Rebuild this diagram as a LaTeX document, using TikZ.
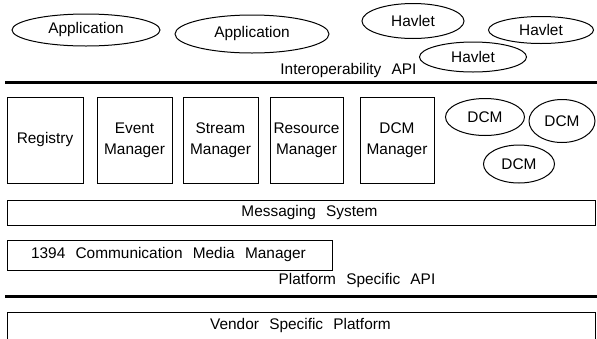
\documentclass[tikz,border=0pt]{standalone}
\usepackage{fontspec}
\setmainfont[WordSpace=2.4]{Liberation Sans}
\usetikzlibrary{shapes.geometric}
\begin{document}
\begin{tikzpicture}[x=1pt,y=-1pt,
  every node/.style={font=\fontsize{15.4}{21}\selectfont},
  oval/.style={draw,ellipse,line width=1pt,inner sep=0pt},
  mbox/.style={draw,rectangle,line width=1pt,inner sep=0pt,align=center},
  band/.style={draw,rectangle,line width=1pt,inner sep=0pt},
  apiline/.style={line width=3pt},
  lbl/.style={inner sep=0pt,anchor=center}]
\useasboundingbox (0,0) rectangle (597,338);
\clip (0,0) rectangle (597,338);
% top ovals
\node[oval,minimum width=148pt,minimum height=32pt] (app1) at (86,30) {Application};
\node[oval,minimum width=154pt,minimum height=38pt] (app2) at (252,34) {Application};
\node[oval,minimum width=102pt,minimum height=35pt] (hav1) at (413,21) {Havlet};
\node[oval,minimum width=105pt,minimum height=27pt] (hav2) at (541,30) {Havlet};
\node[oval,minimum width=107pt,minimum height=30pt] (hav3) at (473,57) {Havlet};
\node[lbl] (iapi) at (348.5,71) {Interoperability API};
\coordinate (ia1) at (5,82);
\coordinate (ia2) at (597,82);
\draw[apiline] (ia1) -- (ia2);
% managers
\node[mbox,minimum width=76pt,minimum height=86pt] (reg) at (45,140) {Registry};
\node[mbox,minimum width=75pt,minimum height=86pt] (evt) at (134.5,140) {Event\\Manager};
\node[mbox,minimum width=75pt,minimum height=86pt] (str) at (220.5,140) {Stream\\Manager};
\node[mbox,minimum width=73pt,minimum height=86pt] (res) at (306.5,140) {Resource\\Manager};
\node[mbox,minimum width=74pt,minimum height=86pt] (dcmm) at (397,140) {DCM\\Manager};
\node[oval,minimum width=79pt,minimum height=37pt] (dcm1) at (485,117) {DCM};
\node[oval,minimum width=66pt,minimum height=43pt] (dcm2) at (562,121) {DCM};
\node[oval,minimum width=71pt,minimum height=38pt] (dcm3) at (519,164) {DCM};
% messaging
\node[band,minimum width=588pt,minimum height=25pt] (msgbox) at (301,212.5) {};
\node[lbl] (msg) at (309.5,213) {Messaging System};
\node[band,minimum width=325pt,minimum height=30pt] (cmmbox) at (169.5,255) {};
\node[lbl] (cmm) at (168.5,255) {1394 Communication Media Manager};
\node[lbl] (papi) at (357,281) {Platform Specific API};
\coordinate (pa1) at (5,296);
\coordinate (pa2) at (597,296);
\draw[apiline] (pa1) -- (pa2);
\node[band,minimum width=588pt,minimum height=40pt] (vbox) at (301,332) {};
\node[lbl] (vend) at (300.5,326) {Vendor Specific Platform};
\end{tikzpicture}
\end{document}
